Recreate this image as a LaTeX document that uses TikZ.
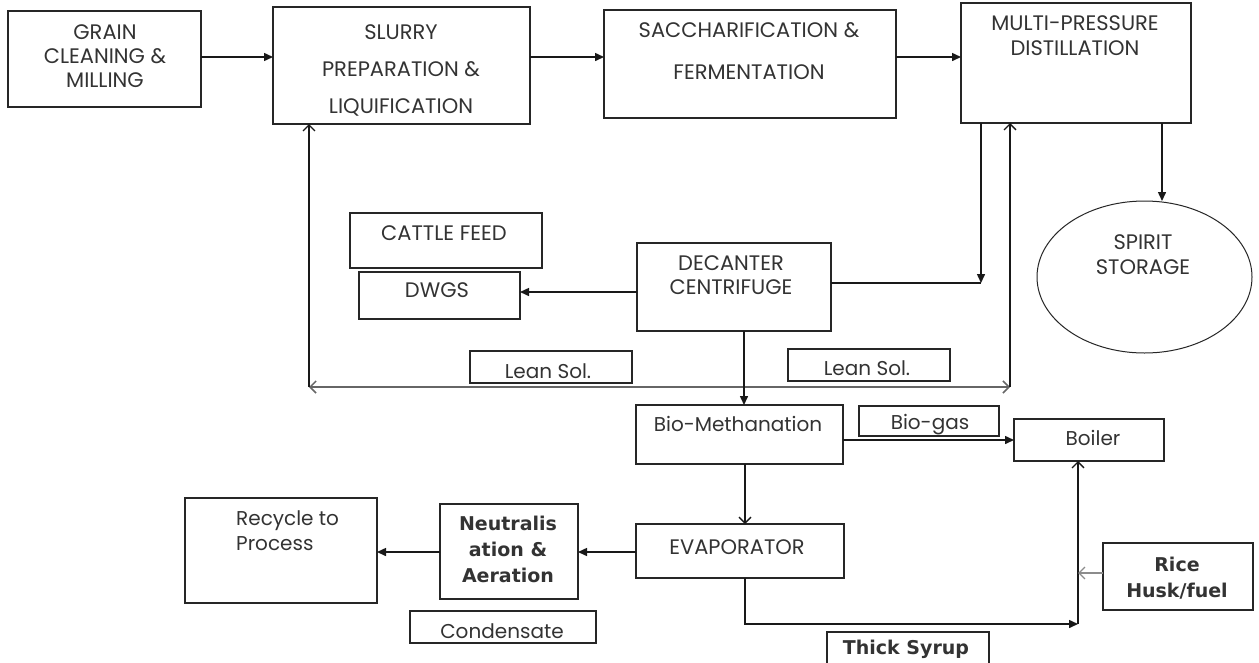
\documentclass[tikz,border=0pt]{standalone}
\usepackage{fontspec}
\setmainfont{Poppins}
\newfontfamily\boldf{DejaVu Sans}
\usetikzlibrary{arrows.meta,shapes.geometric}
\newcommand\fsz[2]{\fontsize{#1}{#2}\selectfont}
\begin{document}
\begin{tikzpicture}[x=1pt,y=-1pt,
  box/.style={draw=black!85,line width=1.3pt,inner sep=0pt,outer sep=0pt,fill=white},
  txt/.style={inner sep=0pt,align=center,text=black!80},
  capt/.style={txt,font=\fsz{21}{24}},
  lowt/.style={txt,font=\fsz{20}{25}},
  bldt/.style={txt,font=\boldf\bfseries\fsz{19}{26}},
  plain/.style={line width=1.5pt,draw=black!90},
  arr/.style={plain,-{Triangle[length=9pt,width=8pt]}},
  oarr/.style={plain,-{Straight Barb[length=6pt,width=12pt,line width=1.3pt]}},
  garr/.style={line width=1.3pt,draw=black!45,-{Straight Barb[length=6pt,width=12pt]}},
  dbl/.style={line width=1.5pt,draw=black!60,{Straight Barb[length=6pt,width=12pt]}-{Straight Barb[length=6pt,width=12pt]}}
]
\fill[white] (0,0) rectangle (1259,662);
\useasboundingbox (0,0) rectangle (1259,662);

% boxes
\node[box,minimum width=193pt,minimum height=96pt] (grain) at (104.5,59) {};
\node[box,minimum width=257pt,minimum height=117pt] (slurry) at (401.5,65.5) {};
\node[box,minimum width=292pt,minimum height=108pt] (sacch) at (750,64) {};
\node[box,minimum width=230pt,minimum height=120pt] (mpd) at (1076,63) {};
\node[box,ellipse,line width=1pt,minimum width=215pt,minimum height=152pt] (spirit) at (1144.5,277) {};
\node[box,minimum width=192pt,minimum height=55pt] (cattle) at (446,240.5) {};
\node[box,minimum width=161pt,minimum height=47pt] (dwgs) at (439.5,295.5) {};
\node[box,minimum width=194pt,minimum height=88pt] (decanter) at (734,287) {};
\node[box,minimum width=162pt,minimum height=32pt] (leanL) at (551,367) {};
\node[box,minimum width=162pt,minimum height=32pt] (leanR) at (869,365) {};
\node[box,minimum width=207pt,minimum height=59pt] (biometh) at (739.5,434.5) {};
\node[box,minimum width=140pt,minimum height=30pt] (biogas) at (929,421) {};
\node[box,minimum width=150pt,minimum height=42pt] (boiler) at (1089,440) {};
\node[box,minimum width=208pt,minimum height=54pt] (evap) at (740,551) {};
\node[box,minimum width=150pt,minimum height=67pt] (rice) at (1178,576.5) {};
\node[box,minimum width=162pt,minimum height=40pt] (thick) at (908,652) {};
\node[box,minimum width=192pt,minimum height=105pt] (recycle) at (281,550.5) {};
\node[box,minimum width=138pt,minimum height=95pt] (neut) at (509,551.5) {};
\node[box,minimum width=186pt,minimum height=32pt] (cond) at (503,627) {};

% texts
\node[capt] (t-grain) at (105,56) {GRAIN\\CLEANING \&\\MILLING};
\node[capt,font=\fsz{21}{37}] (t-slurry) at (401,70) {SLURRY\\PREPARATION \&\\LIQUIFICATION};
\node[capt,font=\fsz{21}{42}] (t-sacch) at (749,51) {SACCHARIFICATION \&\\FERMENTATION};
\node[capt,font=\fsz{21}{25}] (t-mpd) at (1075,35.5) {MULTI-PRESSURE\\DISTILLATION};
\node[capt,font=\fsz{21}{25}] (t-spirit) at (1143,254.5) {SPIRIT\\STORAGE};
\node[capt] (t-cattle) at (444,233) {CATTLE FEED};
\node[capt] (t-dwgs) at (437,290) {DWGS};
\node[capt] (t-dec) at (731,275) {DECANTER\\CENTRIFUGE};
\node[lowt] (t-leanL) at (548,371) {Lean Sol.};
\node[lowt] (t-leanR) at (867,368) {Lean Sol.};
\node[lowt] (t-bio) at (738,424) {Bio-Methanation};
\node[lowt] (t-biogas) at (930,425) {Bio-gas};
\node[lowt] (t-boiler) at (1093,438) {Boiler};
\node[capt] (t-evap) at (737,547) {EVAPORATOR};
\node[bldt] (t-rice) at (1177,578) {Rice\\Husk/fuel};
\node[bldt] (t-thick) at (906,649) {Thick Syrup};
\node[lowt,font=\fsz{20}{25},align=left,anchor=west] (t-rec) at (236,530.5) {Recycle to\\Process};
\node[bldt] (t-neut) at (508,549) {Neutralis\\ation \&\\Aeration};
\node[lowt] (t-cond) at (502,631) {Condensate};

% connectors
\coordinate (ya) at (0,57);
\draw[arr] (grain.east |- ya) -- (slurry.west |- ya);
\draw[arr] (slurry.east |- ya) -- (sacch.west |- ya);
\draw[arr] (sacch.east |- ya) -- (mpd.west |- ya);
\coordinate (xs) at (1162,0);
\draw[arr] (mpd.south -| xs) -- (spirit.north -| xs);
\coordinate (cR) at (981,283);
\draw[plain] (decanter.east |- cR) -- (cR);
\draw[arr] (mpd.south -| cR) -- (cR);
\coordinate (yd) at (0,292);
\draw[arr] (decanter.west |- yd) -- (dwgs.east |- yd);
\coordinate (lL) at (309,387);
\coordinate (lR) at (1010,387);
\draw[dbl] (lL) -- (lR);
\draw[oarr] (lL) -- (slurry.south -| lL);
\draw[oarr] (lR) -- (mpd.south -| lR);
\coordinate (xd) at (744,0);
\draw[arr] (decanter.south -| xd) -- (biometh.north -| xd);
\coordinate (yb) at (0,440);
\draw[arr] (biometh.east |- yb) -- (boiler.west |- yb);
\coordinate (xe) at (745,0);
\draw[oarr] (biometh.south -| xe) -- (evap.north -| xe);
\coordinate (yn) at (0,552);
\draw[arr] (evap.west |- yn) -- (neut.east |- yn);
\draw[arr] (neut.west |- yn) -- (recycle.east |- yn);
\coordinate (cB) at (1078,624);
\draw[arr] (evap.south -| xe) |- (cB);
\draw[oarr] (cB) -- (boiler.south -| cB);
\coordinate (yr) at (0,573);
\draw[garr] (rice.west |- yr) -- (cB |- yr);
\end{tikzpicture}
\end{document}
